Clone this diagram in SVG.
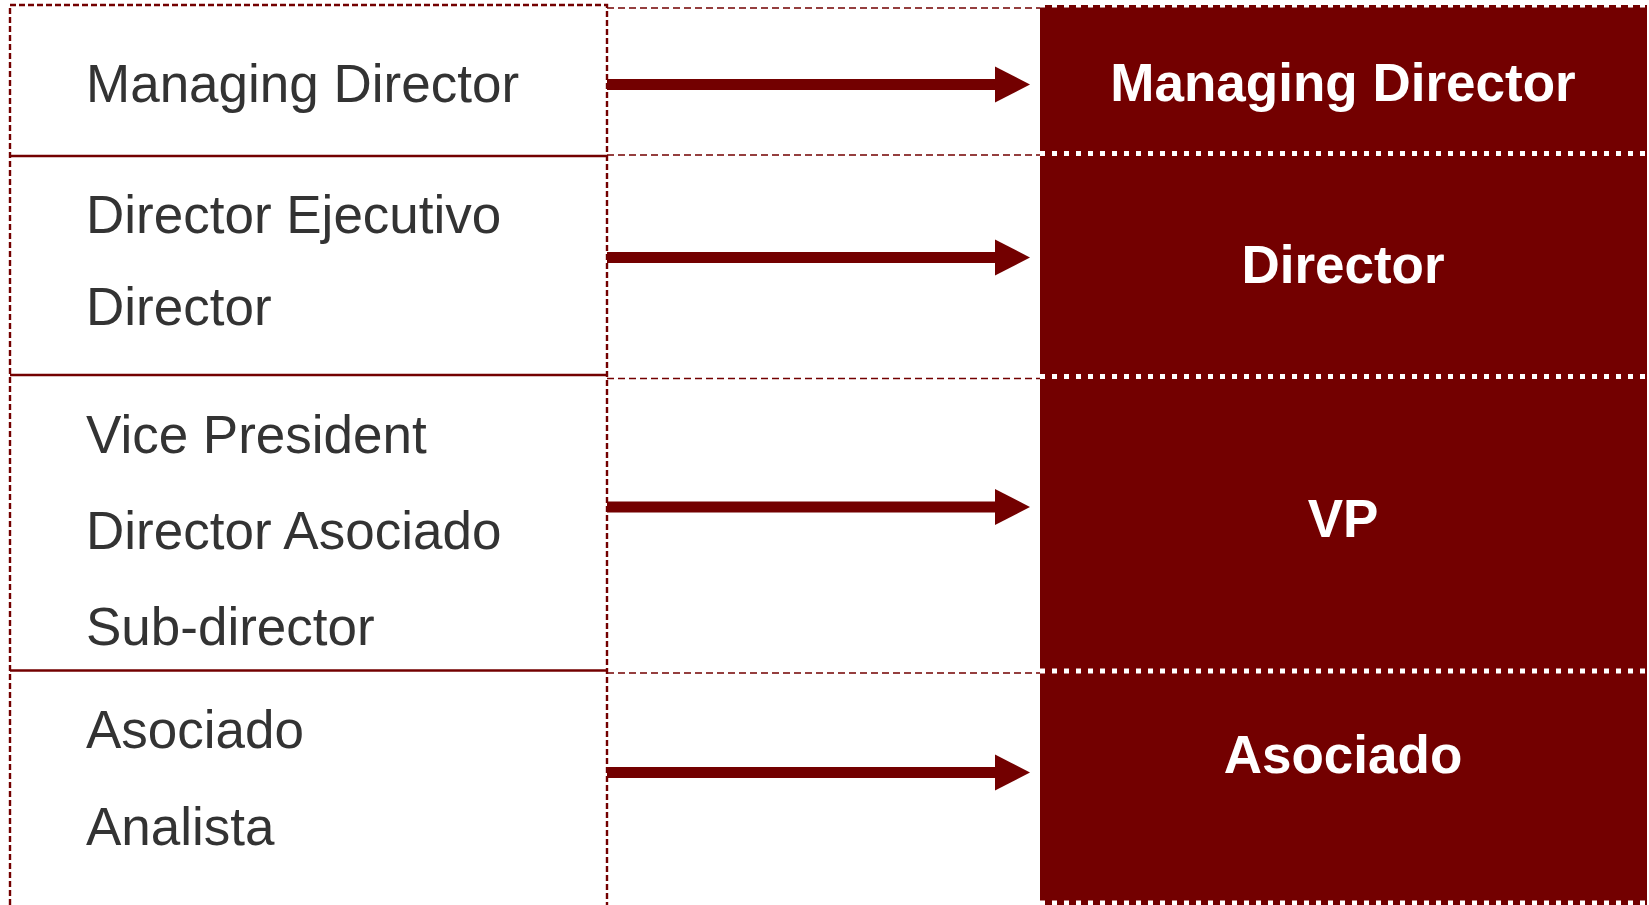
<svg xmlns="http://www.w3.org/2000/svg" width="1649" height="905" viewBox="0 0 1649 905">
<style>
.lt{font-family:"Liberation Sans",Arial,sans-serif;font-size:53px;fill:#333333}
.rt{font-family:"Liberation Sans",Arial,sans-serif;font-size:53px;font-weight:bold;fill:#ffffff;text-anchor:middle}
.rbox{fill:#730000}
.dot{stroke:#ffffff;stroke-width:5;stroke-dasharray:5,7;fill:none}
.mid{stroke:#730000;stroke-width:1.6;stroke-dasharray:7,4;fill:none}
.div{stroke:#730000;stroke-width:2.5;fill:none}
.arr{stroke:#730000;stroke-width:11;fill:none;marker-end:url(#head)}
</style>
<defs>
<marker id="head" markerUnits="userSpaceOnUse" markerWidth="36" markerHeight="37" refX="0" refY="18" orient="auto" overflow="visible">
<path d="M0,0 L35,18 L0,36 Z" fill="#730000"/>
</marker>
</defs>
<rect width="1649" height="905" fill="#ffffff"/>
<g id="left-frame">
<path d="M10,905 V5 H607 V905" fill="none" stroke="#730000" stroke-width="2.4" stroke-dasharray="6,3"/>
<line class="div" x1="10" y1="156" x2="607" y2="156"/>
<line class="div" x1="10" y1="375" x2="607" y2="375"/>
<line class="div" x1="10" y1="670.5" x2="607" y2="670.5"/>
</g>
<g id="mid-lines">
<line class="mid" x1="607" y1="8" x2="1040" y2="8"/>
<line class="mid" x1="607" y1="155" x2="1040" y2="155"/>
<line class="mid" x1="607" y1="378.5" x2="1040" y2="378.5"/>
<line class="mid" x1="607" y1="673" x2="1040" y2="673"/>
</g>
<g id="left-md"><text class="lt" x="86" y="102">Managing Director</text></g>
<g id="left-dir"><text class="lt" x="86" y="233">Director Ejecutivo</text><text class="lt" x="86" y="325">Director</text></g>
<g id="left-vp"><text class="lt" x="86" y="453">Vice President</text><text class="lt" x="86" y="549">Director Asociado</text><text class="lt" x="86" y="645">Sub-director</text></g>
<g id="left-as"><text class="lt" x="86" y="748">Asociado</text><text class="lt" x="86" y="845">Analista</text></g>
<g id="right-md"><rect class="rbox" x="1040" y="5" width="607" height="149"/><text class="rt" x="1343" y="101">Managing Director</text></g>
<g id="right-dir"><rect class="rbox" x="1040" y="153" width="607" height="224"/><text class="rt" x="1343" y="283">Director</text></g>
<g id="right-vp"><rect class="rbox" x="1040" y="376" width="607" height="296"/><text class="rt" x="1343" y="537">VP</text></g>
<g id="right-as"><rect class="rbox" x="1040" y="671" width="607" height="234"/><text class="rt" x="1343" y="773">Asociado</text></g>
<g id="dotted-separators">
<line class="dot" x1="1040" y1="5" x2="1647" y2="5"/>
<line class="dot" x1="1040" y1="153.5" x2="1647" y2="153.5"/>
<line class="dot" x1="1040" y1="376.5" x2="1647" y2="376.5"/>
<line class="dot" x1="1040" y1="671" x2="1647" y2="671"/>
<line class="dot" x1="1040" y1="903" x2="1647" y2="903"/>
</g>
<g id="connectors">
<line class="arr" x1="607" y1="84.5" x2="995" y2="84.5"/>
<line class="arr" x1="607" y1="257.5" x2="995" y2="257.5"/>
<line class="arr" x1="607" y1="507" x2="995" y2="507"/>
<line class="arr" x1="607" y1="772.5" x2="995" y2="772.5"/>
</g>
</svg>
